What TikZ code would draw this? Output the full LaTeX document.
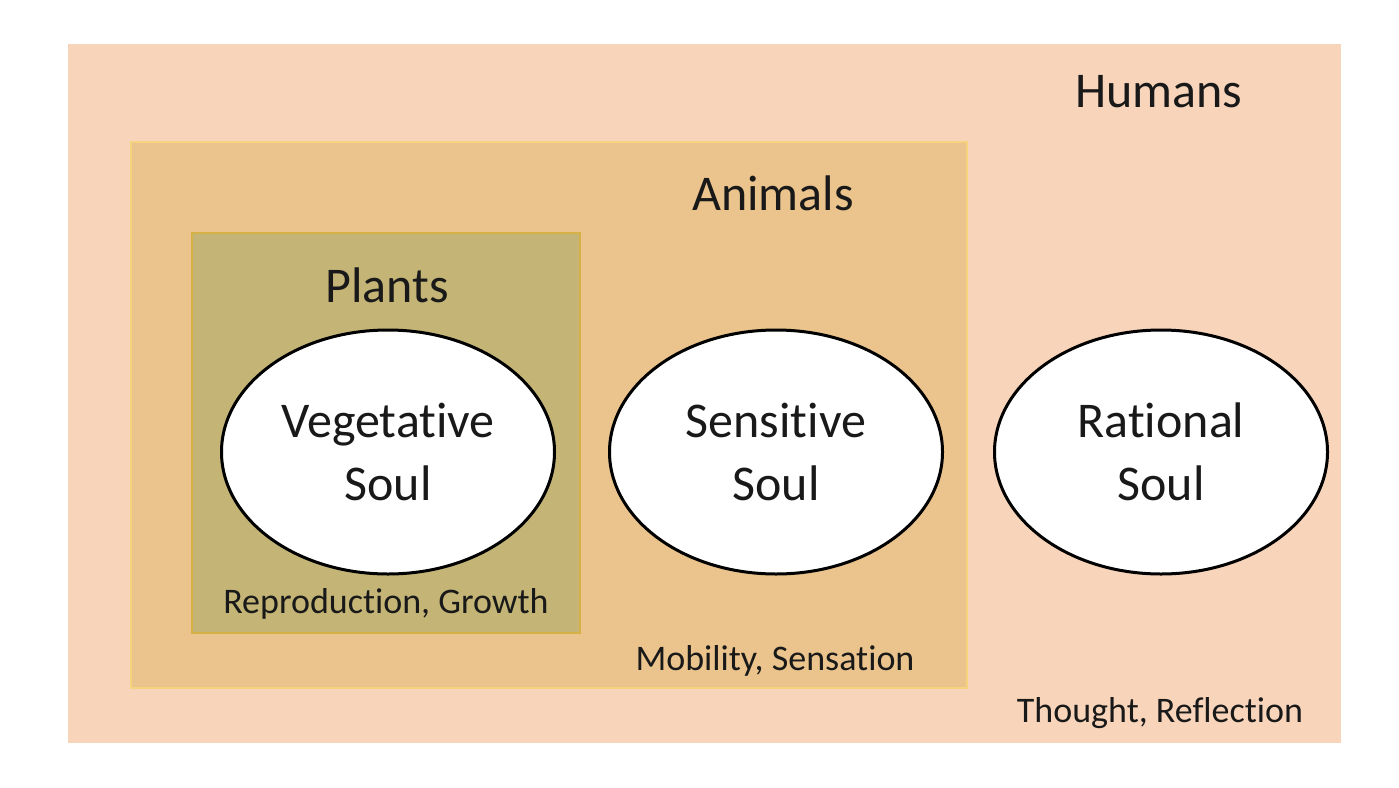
\documentclass[tikz,border=0pt]{standalone}
\usepackage{fontspec}
\setmainfont[Ligatures={NoCommon,NoContextual}]{Carlito}
\usetikzlibrary{shapes.geometric}
\definecolor{humansfill}{RGB}{248,213,186}
\definecolor{animalsfill}{RGB}{234,196,140}
\definecolor{animalsedge}{RGB}{245,212,125}
\definecolor{plantsfill}{RGB}{196,181,119}
\definecolor{plantsedge}{RGB}{214,178,70}
\definecolor{textcol}{RGB}{25,25,25}
\begin{document}
\begin{tikzpicture}[x=1pt,y=-1pt,
  soul/.style={ellipse,draw=black,line width=3pt,fill=white,minimum width=333pt,minimum height=244pt,inner sep=0pt,align=center,font=\fontsize{50}{63}\selectfont,text=textcol},
  biglabel/.style={anchor=base,inner sep=0pt,font=\fontsize{50}{60}\selectfont,text=textcol},
  smalllabel/.style={anchor=base,inner sep=0pt,font=\fontsize{36}{43}\selectfont,text=textcol}]
\useasboundingbox (0,0) rectangle (1399,787);
\fill[white] (0,0) rectangle (1399,787);
% regions
\fill[humansfill] (68,44) rectangle (1341,743);
\filldraw[fill=animalsfill,draw=animalsedge,line width=1.5pt] (131,142) rectangle (967,688);
\filldraw[fill=plantsfill,draw=plantsedge,line width=1.5pt] (192,233) rectangle (580,633);
% titles
\node[biglabel] (humans) at (1159,107) {Humans};
\node[biglabel] (animals) at (773,210) {Animals};
\node[biglabel] (plants) at (387,302) {Plants};
% souls
\node[soul] (veg) at (388,452) {Vegetative\\Soul};
\node[soul] (sens) at (776,452) {Sensitive\\Soul};
\node[soul] (rat) at (1161,452) {Rational\\Soul};
% faculties
\node[smalllabel] (repro) at (386,613) {Reproduction, Growth};
\node[smalllabel] (mob) at (775,670) {Mobility, Sensation};
\node[smalllabel] (thought) at (1160,722) {Thought, Reflection};
\end{tikzpicture}
\end{document}
